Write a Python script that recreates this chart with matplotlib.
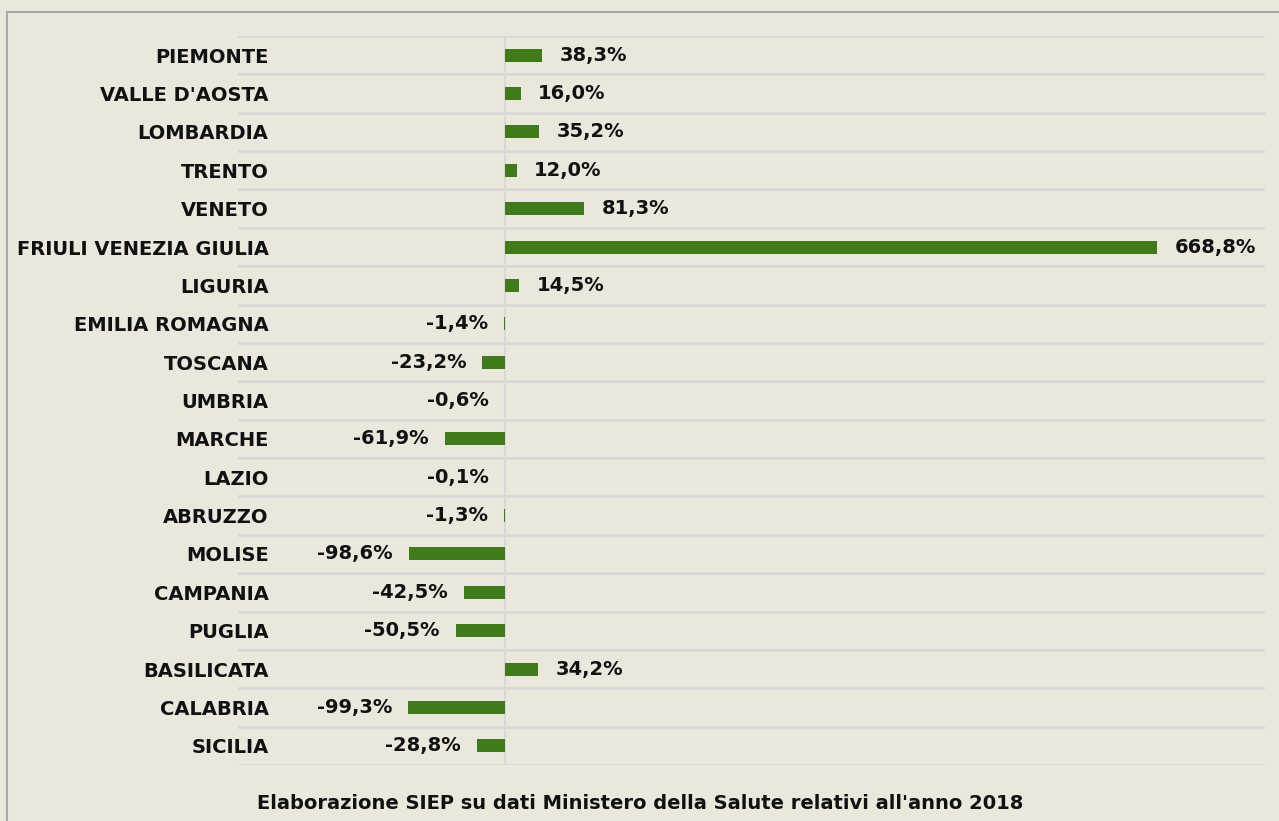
import matplotlib
matplotlib.use('Agg')
import matplotlib.pyplot as plt
from matplotlib.lines import Line2D

regions = ['PIEMONTE', "VALLE D'AOSTA", 'LOMBARDIA', 'TRENTO', 'VENETO',
           'FRIULI VENEZIA GIULIA', 'LIGURIA', 'EMILIA ROMAGNA', 'TOSCANA',
           'UMBRIA', 'MARCHE', 'LAZIO', 'ABRUZZO', 'MOLISE', 'CAMPANIA',
           'PUGLIA', 'BASILICATA', 'CALABRIA', 'SICILIA']
values = [38.3, 16.0, 35.2, 12.0, 81.3, 668.8, 14.5, -1.4, -23.2, -0.6,
          -61.9, -0.1, -1.3, -98.6, -42.5, -50.5, 34.2, -99.3, -28.8]
caption = "Elaborazione SIEP su dati Ministero della Salute relativi all'anno 2018"

bg = '#EAE7DD'
bar_color = '#417A1B'
grid_color = '#D8D8D6'
txt_color = '#111111'

W, H = 1279, 821
fig = plt.figure(figsize=(W / 100, H / 100), dpi=100)
fig.patch.set_facecolor(bg)

# axes placed to match the reference pixel box
left, right, top, bottom = 238, 1265, 36, 765
ax = fig.add_axes([left / W, 1 - bottom / H, (right - left) / W, (bottom - top) / H])
ax.set_facecolor(bg)

n = len(regions)
ypos = list(range(n))
ax.barh(ypos, values, height=0.34, color=bar_color, zorder=3)

ax.set_ylim(n - 0.5, -0.5)
ax.set_xlim(-274, 779.5)

# horizontal separators between rows
for k in range(n + 1):
    ax.axhline(k - 0.5, color=grid_color, lw=2, zorder=1)
ax.axvline(0, color=grid_color, lw=1.5, zorder=1)

for s in ax.spines.values():
    s.set_visible(False)
ax.set_xticks([])
ax.set_yticks(ypos)
ax.set_yticklabels(regions, fontsize=14, fontweight='bold', color=txt_color)
ax.tick_params(axis='y', length=0, pad=-22)

for y, v in zip(ypos, values):
    txt = f'{v:.1f}%'.replace('.', ',')
    if v >= 0:
        ax.annotate(txt, (v, y), xytext=(12.5, 0), textcoords='offset points',
                    ha='left', va='center', fontsize=14, fontweight='bold',
                    color=txt_color)
    else:
        ax.annotate(txt, (v, y), xytext=(-11.5, 0), textcoords='offset points',
                    ha='right', va='center', fontsize=14, fontweight='bold',
                    color=txt_color)

# outer frame lines (top and left)
fig.add_artist(Line2D([7 / W, 1], [1 - 12 / H, 1 - 12 / H], color='#A9A9A9', lw=1.5))
fig.add_artist(Line2D([7 / W, 7 / W], [0, 1 - 12 / H], color='#A9A9A9', lw=1.5))

fig.text(640 / W, 1 - 803 / H, caption, ha='center', va='center',
         fontsize=14, fontweight='bold', color=txt_color)

fig.savefig('out.png', dpi=100, facecolor=bg)
